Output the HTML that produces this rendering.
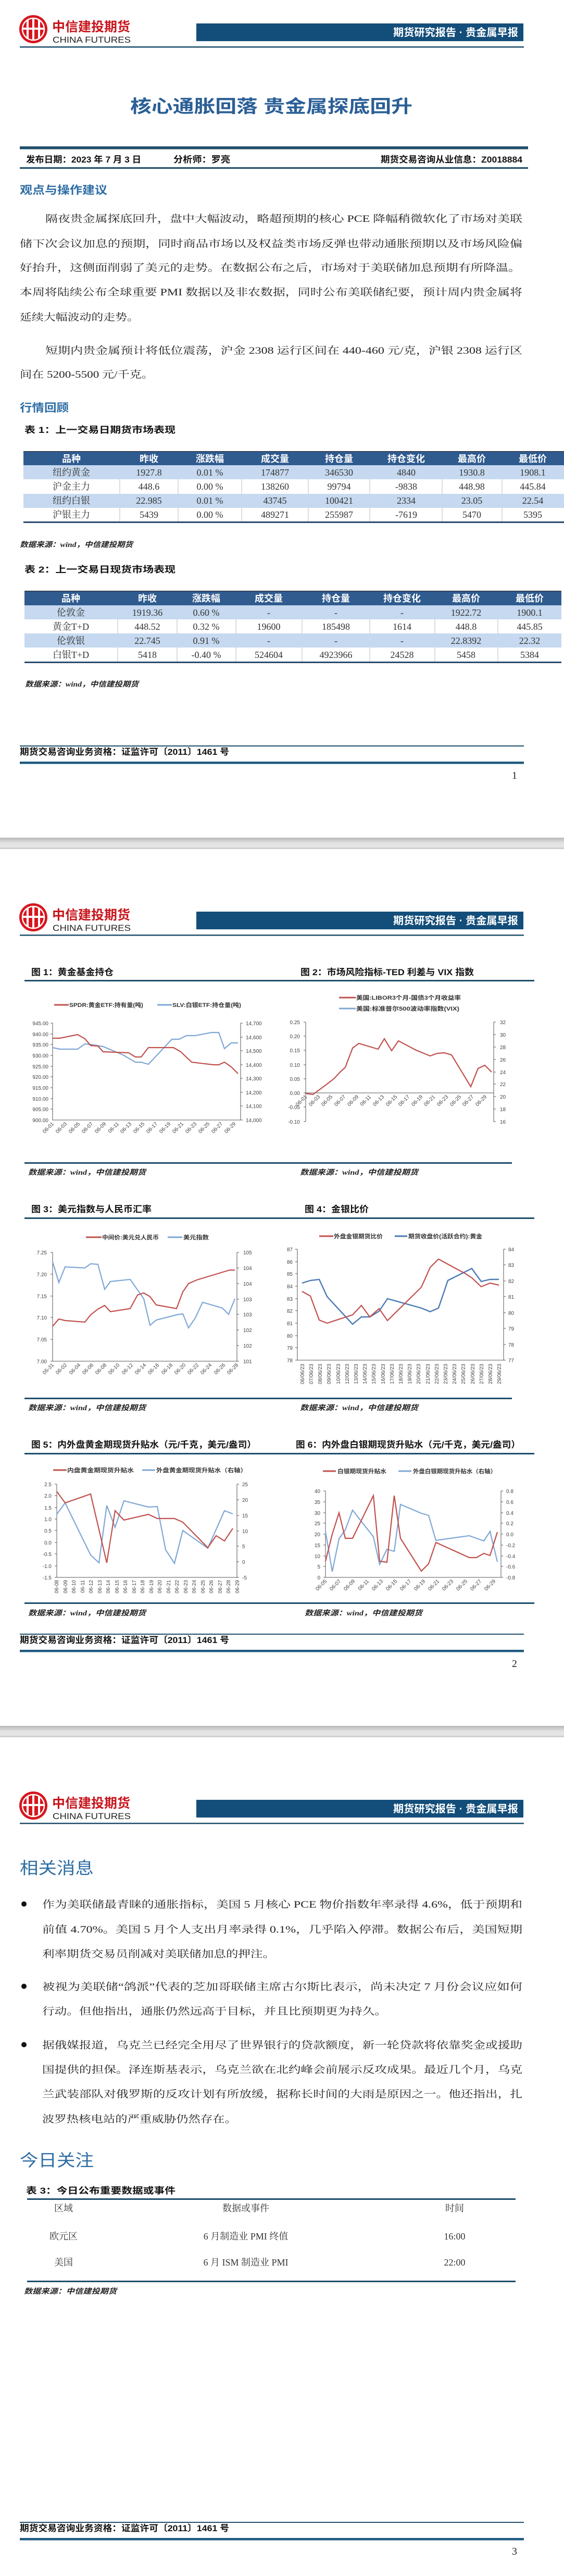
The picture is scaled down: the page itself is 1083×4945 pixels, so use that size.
<!DOCTYPE html>
<html><head><meta charset="utf-8"><style>
html,body{margin:0;padding:0;background:#fff;width:1083px;height:4945px;overflow:hidden}
svg{display:block}
.sb{font-family:"Liberation Sans","Noto Sans CJK SC",sans-serif;font-weight:bold}
.s{font-family:"Liberation Sans","Noto Sans CJK SC",sans-serif}
.se{font-family:"Liberation Serif","Noto Serif CJK SC",serif}
.src{font-family:"Liberation Serif","Noto Sans CJK SC",sans-serif;font-weight:bold;font-style:italic;font-size:14px;fill:#222}
.ax{font-family:"Liberation Sans",sans-serif;font-size:10px;fill:#444}
.lg{font-family:"Liberation Sans","Noto Sans CJK SC",sans-serif;font-size:11px;font-weight:bold;fill:#333}
.ttl{font-family:"Liberation Sans","Noto Sans CJK SC",sans-serif;font-weight:bold;font-size:17px;fill:#111}
.body{font-family:"Liberation Serif","Noto Serif CJK SC",serif;font-size:19px;fill:#222}
.td{font-family:"Liberation Serif","Noto Serif CJK SC",serif;font-size:18px;fill:#333;text-anchor:middle}
.th{font-family:"Liberation Sans","Noto Sans CJK SC",sans-serif;font-weight:bold;font-size:18px;fill:#fff;text-anchor:middle}
.r{fill:none;stroke:#c0504d;stroke-width:2.2}
.b{fill:none;stroke:#7fa7d6;stroke-width:2.2}
.bd{fill:none;stroke:#4a7ab5;stroke-width:2.4}
.axl{stroke:#555;stroke-width:1;fill:none}
</style></head><body>
<svg width="1083" height="4945" viewBox="0 0 1083 4945" xmlns="http://www.w3.org/2000/svg">
<defs>
<g id="hdr">
  <circle cx="64" cy="56" r="27" fill="#d7161e"/>
  <circle cx="64" cy="56" r="21" fill="none" stroke="#fff" stroke-width="2.5"/>
  <rect x="51" y="38" width="4" height="36" fill="#fff"/>
  <rect x="62" y="34" width="4" height="44" fill="#fff"/>
  <rect x="73" y="38" width="4" height="36" fill="#fff"/>
  <rect x="44" y="53" width="40" height="4" fill="#fff"/>
  <text x="100" y="60" class="sb" font-size="25" fill="#c8161d" textLength="150" lengthAdjust="spacingAndGlyphs">中信建投期货</text>
  <text x="101" y="82" class="s" font-size="17" fill="#222" textLength="150" lengthAdjust="spacingAndGlyphs">CHINA FUTURES</text>
  <rect x="377" y="45" width="628" height="34" fill="#134e7a"/>
  <text x="755" y="69" class="sb" font-size="20" fill="#fff" textLength="240" lengthAdjust="spacingAndGlyphs">期货研究报告 · 贵金属早报</text>
  <rect x="38" y="89" width="968" height="2.5" fill="#1f4e6b"/>
</g>
<g id="ftr">
  <rect x="38" y="1431" width="968" height="2" fill="#1f4e6b"/>
  <text x="38" y="1449" class="sb" font-size="17" fill="#111" textLength="402" lengthAdjust="spacingAndGlyphs">期货交易咨询业务资格：证监许可〔2011〕1461 号</text>
  <rect x="38" y="1462" width="968" height="4.5" fill="#1f5a80"/>
</g>
<linearGradient id="gap" x1="0" y1="0" x2="0" y2="1"><stop offset="0" stop-color="#b8b8b8"/><stop offset="0.5" stop-color="#e4e4e4"/><stop offset="0.85" stop-color="#e4e4e4"/><stop offset="0.86" stop-color="#d0d0d0"/><stop offset="1" stop-color="#d0d0d0"/></linearGradient>
</defs>

<!-- PAGE 1 -->
<use href="#hdr"/>
<text x="250" y="216" class="sb" font-size="34" fill="#2b5f96" textLength="542" lengthAdjust="spacingAndGlyphs">核心通胀回落 贵金属探底回升</text>
<rect x="38" y="281" width="976" height="5.5" fill="#1f4e6b"/>
<text x="50" y="312" class="sb" font-size="17" fill="#111" textLength="221" lengthAdjust="spacingAndGlyphs">发布日期：2023 年 7 月 3 日</text>
<text x="333" y="312" class="sb" font-size="17" fill="#111" textLength="109" lengthAdjust="spacingAndGlyphs">分析师：罗亮</text>
<text x="731" y="312" class="sb" font-size="17" fill="#111" textLength="272" lengthAdjust="spacingAndGlyphs">期货交易咨询从业信息：Z0018884</text>
<rect x="38" y="321" width="976" height="3" fill="#1f4e6b"/>
<text x="38" y="372" class="sb" font-size="21" fill="#2e6da4" textLength="168" lengthAdjust="spacingAndGlyphs">观点与操作建议</text>
<text x="87" y="426" class="body" textLength="916" lengthAdjust="spacingAndGlyphs">隔夜贵金属探底回升，盘中大幅波动，略超预期的核心 PCE 降幅稍微软化了市场对美联</text>
<text x="38" y="474" class="body" textLength="965" lengthAdjust="spacingAndGlyphs">储下次会议加息的预期，同时商品市场以及权益类市场反弹也带动通胀预期以及市场风险偏</text>
<text x="38" y="520" class="body" textLength="962" lengthAdjust="spacingAndGlyphs">好抬升，这侧面削弱了美元的走势。在数据公布之后，市场对于美联储加息预期有所降温。</text>
<text x="38" y="567" class="body" textLength="965" lengthAdjust="spacingAndGlyphs">本周将陆续公布全球重要 PMI 数据以及非农数据，同时公布美联储纪要，预计周内贵金属将</text>
<text x="38" y="615" class="body" textLength="229" lengthAdjust="spacingAndGlyphs">延续大幅波动的走势。</text>
<text x="87" y="679" class="body" textLength="916" lengthAdjust="spacingAndGlyphs">短期内贵金属预计将低位震荡，沪金 2308 运行区间在 440-460 元/克，沪银 2308 运行区</text>
<text x="38" y="725" class="body" textLength="257" lengthAdjust="spacingAndGlyphs">间在 5200-5500 元/千克。</text>
<text x="38" y="790" class="sb" font-size="21" fill="#2e6da4" textLength="94" lengthAdjust="spacingAndGlyphs">行情回顾</text>

<text x="47" y="831" class="ttl" textLength="290" lengthAdjust="spacingAndGlyphs">表 1：上一交易日期货市场表现</text>
<rect x="45" y="866" width="1038" height="1.5" fill="#222"/>
<rect x="45" y="867" width="1038" height="26" fill="#2f5b8f"/>
<rect x="45" y="893" width="1038" height="27" fill="#c6d9f0"/>
<rect x="45" y="948" width="1038" height="27" fill="#c6d9f0"/>
<g stroke="#bbb" stroke-width="1">
<line x1="230" y1="920" x2="230" y2="948"/><line x1="342" y1="920" x2="342" y2="948"/><line x1="464" y1="920" x2="464" y2="948"/><line x1="592" y1="920" x2="592" y2="948"/><line x1="710" y1="920" x2="710" y2="948"/><line x1="849" y1="920" x2="849" y2="948"/><line x1="964" y1="920" x2="964" y2="948"/>
<line x1="230" y1="975" x2="230" y2="1001"/><line x1="342" y1="975" x2="342" y2="1001"/><line x1="464" y1="975" x2="464" y2="1001"/><line x1="592" y1="975" x2="592" y2="1001"/><line x1="710" y1="975" x2="710" y2="1001"/><line x1="849" y1="975" x2="849" y2="1001"/><line x1="964" y1="975" x2="964" y2="1001"/>
</g>
<rect x="45" y="1001" width="1038" height="3" fill="#2b4a6f"/>
<g class="th"><text x="137" y="887">品种</text><text x="286" y="887">昨收</text><text x="403" y="887">涨跌幅</text><text x="528" y="887">成交量</text><text x="651" y="887">持仓量</text><text x="780" y="887">持仓变化</text><text x="906" y="887">最高价</text><text x="1023" y="887">最低价</text></g>
<g class="td">
<text x="137" y="913">纽约黄金</text><text x="286" y="913">1927.8</text><text x="403" y="913">0.01 %</text><text x="528" y="913">174877</text><text x="651" y="913">346530</text><text x="780" y="913">4840</text><text x="906" y="913">1930.8</text><text x="1023" y="913">1908.1</text>
<text x="137" y="940">沪金主力</text><text x="286" y="940">448.6</text><text x="403" y="940">0.00 %</text><text x="528" y="940">138260</text><text x="651" y="940">99794</text><text x="780" y="940">-9838</text><text x="906" y="940">448.98</text><text x="1023" y="940">445.84</text>
<text x="137" y="967">纽约白银</text><text x="286" y="967">22.985</text><text x="403" y="967">0.01 %</text><text x="528" y="967">43745</text><text x="651" y="967">100421</text><text x="780" y="967">2334</text><text x="906" y="967">23.05</text><text x="1023" y="967">22.54</text>
<text x="137" y="994">沪银主力</text><text x="286" y="994">5439</text><text x="403" y="994">0.00 %</text><text x="528" y="994">489271</text><text x="651" y="994">255987</text><text x="780" y="994">-7619</text><text x="906" y="994">5470</text><text x="1023" y="994">5395</text>
</g>
<text x="38" y="1050" class="src" textLength="217" lengthAdjust="spacingAndGlyphs">数据来源：wind，中信建投期货</text>

<text x="47" y="1099" class="ttl" textLength="290" lengthAdjust="spacingAndGlyphs">表 2：上一交易日现货市场表现</text>
<rect x="47" y="1134" width="1031" height="1.5" fill="#222"/>
<rect x="47" y="1135" width="1031" height="27" fill="#2f5b8f"/>
<rect x="47" y="1162" width="1031" height="27" fill="#c6d9f0"/>
<rect x="47" y="1216" width="1031" height="27" fill="#c6d9f0"/>
<g stroke="#bbb" stroke-width="1">
<line x1="226" y1="1189" x2="226" y2="1216"/><line x1="340" y1="1189" x2="340" y2="1216"/><line x1="453" y1="1189" x2="453" y2="1216"/><line x1="580" y1="1189" x2="580" y2="1216"/><line x1="710" y1="1189" x2="710" y2="1216"/><line x1="835" y1="1189" x2="835" y2="1216"/><line x1="956" y1="1189" x2="956" y2="1216"/>
<line x1="226" y1="1243" x2="226" y2="1270"/><line x1="340" y1="1243" x2="340" y2="1270"/><line x1="453" y1="1243" x2="453" y2="1270"/><line x1="580" y1="1243" x2="580" y2="1270"/><line x1="710" y1="1243" x2="710" y2="1270"/><line x1="835" y1="1243" x2="835" y2="1270"/><line x1="956" y1="1243" x2="956" y2="1270"/>
</g>
<rect x="47" y="1270" width="1031" height="3" fill="#2b4a6f"/>
<g class="th"><text x="136" y="1155">品种</text><text x="283" y="1155">昨收</text><text x="396" y="1155">涨跌幅</text><text x="516" y="1155">成交量</text><text x="645" y="1155">持仓量</text><text x="772" y="1155">持仓变化</text><text x="895" y="1155">最高价</text><text x="1017" y="1155">最低价</text></g>
<g class="td">
<text x="136" y="1182">伦敦金</text><text x="283" y="1182">1919.36</text><text x="396" y="1182">0.60 %</text><text x="516" y="1182">-</text><text x="645" y="1182">-</text><text x="772" y="1182">-</text><text x="895" y="1182">1922.72</text><text x="1017" y="1182">1900.1</text>
<text x="136" y="1209">黄金T+D</text><text x="283" y="1209">448.52</text><text x="396" y="1209">0.32 %</text><text x="516" y="1209">19600</text><text x="645" y="1209">185498</text><text x="772" y="1209">1614</text><text x="895" y="1209">448.8</text><text x="1017" y="1209">445.85</text>
<text x="136" y="1236">伦敦银</text><text x="283" y="1236">22.745</text><text x="396" y="1236">0.91 %</text><text x="516" y="1236">-</text><text x="645" y="1236">-</text><text x="772" y="1236">-</text><text x="895" y="1236">22.8392</text><text x="1017" y="1236">22.32</text>
<text x="136" y="1263">白银T+D</text><text x="283" y="1263">5418</text><text x="396" y="1263">-0.40 %</text><text x="516" y="1263">524604</text><text x="645" y="1263">4923966</text><text x="772" y="1263">24528</text><text x="895" y="1263">5458</text><text x="1017" y="1263">5384</text>
</g>
<text x="48" y="1318" class="src" textLength="218" lengthAdjust="spacingAndGlyphs">数据来源：wind，中信建投期货</text>
<use href="#ftr"/>
<text x="983" y="1495" class="se" font-size="20" fill="#222">1</text>
<rect x="0" y="1608" width="1083" height="22" fill="url(#gap)"/>

<!-- PAGE 2 -->
<g transform="translate(0,1705)"><use href="#hdr"/><use href="#ftr"/></g>
<text x="983" y="3200" class="se" font-size="20" fill="#222">2</text>
<rect x="0" y="3313" width="1083" height="22" fill="url(#gap)"/>

<text x="60" y="1872" class="ttl" textLength="158" lengthAdjust="spacingAndGlyphs">图 1：黄金基金持仓</text>
<text x="577" y="1872" class="ttl" textLength="333" lengthAdjust="spacingAndGlyphs">图 2：市场风险指标-TED 利差与 VIX 指数</text>
<rect x="47" y="1881" width="979" height="3" fill="#1f4e6b"/>

<!-- chart1 -->
<line x1="104" y1="1929" x2="132" y2="1929" stroke="#c0504d" stroke-width="3"/>
<text x="133" y="1933" class="lg" textLength="142" lengthAdjust="spacingAndGlyphs">SPDR:黄金ETF:持有量(吨)</text>
<line x1="302" y1="1929" x2="330" y2="1929" stroke="#7fa7d6" stroke-width="3"/>
<text x="331" y="1933" class="lg" textLength="132" lengthAdjust="spacingAndGlyphs">SLV:白银ETF:持仓量(吨)</text>
<path class="axl" d="M101 1964V2150H462M462 1964V2150M97 1964H101M97 1985H101M97 2005H101M97 2026H101M97 2047H101M97 2067H101M97 2088H101M97 2109H101M97 2129H101M462 1964H466M462 1991H466M462 2017H466M462 2044H466M462 2070H466M462 2097H466M462 2123H466M462 2150H466"/>
<g class="ax" text-anchor="end"><text x="93" y="1968">945.00</text><text x="93" y="1989">940.00</text><text x="93" y="2009">935.00</text><text x="93" y="2030">930.00</text><text x="93" y="2051">925.00</text><text x="93" y="2071">920.00</text><text x="93" y="2092">915.00</text><text x="93" y="2113">910.00</text><text x="93" y="2133">905.00</text><text x="93" y="2154">900.00</text></g>
<g class="ax"><text x="472" y="1968">14,700</text><text x="472" y="1995">14,600</text><text x="472" y="2021">14,500</text><text x="472" y="2048">14,400</text><text x="472" y="2074">14,300</text><text x="472" y="2101">14,200</text><text x="472" y="2127">14,100</text><text x="472" y="2154">14,000</text></g>
<g class="ax" text-anchor="end">
<text transform="translate(104,2158) rotate(-45)">06-01</text><text transform="translate(129,2158) rotate(-45)">06-03</text><text transform="translate(154,2158) rotate(-45)">06-05</text><text transform="translate(179,2158) rotate(-45)">06-07</text><text transform="translate(204,2158) rotate(-45)">06-09</text><text transform="translate(229,2158) rotate(-45)">06-11</text><text transform="translate(253,2158) rotate(-45)">06-13</text><text transform="translate(278,2158) rotate(-45)">06-15</text><text transform="translate(303,2158) rotate(-45)">06-17</text><text transform="translate(328,2158) rotate(-45)">06-19</text><text transform="translate(353,2158) rotate(-45)">06-21</text><text transform="translate(378,2158) rotate(-45)">06-23</text><text transform="translate(403,2158) rotate(-45)">06-25</text><text transform="translate(428,2158) rotate(-45)">06-27</text><text transform="translate(453,2158) rotate(-45)">06-29</text></g>
<polyline class="b" points="101,2011 115,2014 149,2014 163,2004 174,2005 198,2009 236,2025 260,2039 271,2039 285,2043 330,1995 344,1995 358,1988 375,1988 406,1982 420,1982 431,2013 444,2002 457,2002"/>
<polyline class="r" points="101,1993 115,1993 149,1986 163,1994 174,2007 188,2008 198,2019 247,2021 260,2029 271,2029 285,2011 333,2011 347,2019 368,2039 410,2044 420,2044 431,2039 444,2048 457,2061"/>

<!-- chart2 -->
<line x1="651" y1="1915" x2="683" y2="1915" stroke="#c0504d" stroke-width="3"/>
<text x="684" y="1919" class="lg" textLength="201" lengthAdjust="spacingAndGlyphs">美国:LIBOR3个月-国债3个月收益率</text>
<line x1="651" y1="1936" x2="683" y2="1936" stroke="#7fa7d6" stroke-width="3"/>
<text x="684" y="1940" class="lg" textLength="198" lengthAdjust="spacingAndGlyphs">美国:标准普尔500波动率指数(VIX)</text>
<path class="axl" d="M587 1962V2153M948 1962V2153M587 2098H948M583 1962H587M583 1989H587M583 2016H587M583 2044H587M583 2071H587M583 2098H587M583 2125H587M583 2153H587M948 1962H952M948 1986H952M948 2010H952M948 2034H952M948 2058H952M948 2081H952M948 2105H952M948 2129H952M948 2153H952"/>
<g class="ax" text-anchor="end"><text x="576" y="1966">0.25</text><text x="576" y="1993">0.20</text><text x="576" y="2020">0.15</text><text x="576" y="2048">0.10</text><text x="576" y="2075">0.05</text><text x="576" y="2102">0.00</text><text x="576" y="2129">-0.05</text><text x="576" y="2157">-0.10</text></g>
<g class="ax"><text x="960" y="1966">32</text><text x="960" y="1990">30</text><text x="960" y="2014">28</text><text x="960" y="2038">26</text><text x="960" y="2062">24</text><text x="960" y="2085">22</text><text x="960" y="2109">20</text><text x="960" y="2133">18</text><text x="960" y="2157">16</text></g>
<g class="ax" text-anchor="end">
<text transform="translate(590,2106) rotate(-45)">06-01</text><text transform="translate(615,2106) rotate(-45)">06-03</text><text transform="translate(639,2106) rotate(-45)">06-05</text><text transform="translate(664,2106) rotate(-45)">06-07</text><text transform="translate(689,2106) rotate(-45)">06-09</text><text transform="translate(713,2106) rotate(-45)">06-11</text><text transform="translate(738,2106) rotate(-45)">06-13</text><text transform="translate(763,2106) rotate(-45)">06-15</text><text transform="translate(787,2106) rotate(-45)">06-17</text><text transform="translate(812,2106) rotate(-45)">06-19</text><text transform="translate(836,2106) rotate(-45)">06-21</text><text transform="translate(861,2106) rotate(-45)">06-23</text><text transform="translate(886,2106) rotate(-45)">06-25</text><text transform="translate(910,2106) rotate(-45)">06-27</text><text transform="translate(935,2106) rotate(-45)">06-29</text></g>
<polyline class="r" points="587,2099 601,2101 628,2081 642,2070 653,2058 663,2049 677,2012 689,2003 726,2014 738,1994 752,2017 765,1998 799,2016 826,2027 840,2022 853,2021 867,2025 904,2086 918,2051 931,2045 944,2058"/>

<rect x="47" y="2231" width="936" height="3" fill="#1f4e6b"/>
<text x="54" y="2255" class="src" textLength="226" lengthAdjust="spacingAndGlyphs">数据来源：wind，中信建投期货</text>
<text x="576" y="2255" class="src" textLength="227" lengthAdjust="spacingAndGlyphs">数据来源：wind，中信建投期货</text>

<text x="60" y="2327" class="ttl" textLength="231" lengthAdjust="spacingAndGlyphs">图 3：美元指数与人民币汇率</text>
<text x="585" y="2327" class="ttl" textLength="123" lengthAdjust="spacingAndGlyphs">图 4：金银比价</text>
<rect x="47" y="2337" width="979" height="3" fill="#1f4e6b"/>

<!-- chart3 -->
<line x1="165" y1="2375" x2="195" y2="2375" stroke="#c0504d" stroke-width="3"/>
<text x="196" y="2379" class="lg" textLength="109" lengthAdjust="spacingAndGlyphs">中间价:美元兑人民币</text>
<line x1="322" y1="2375" x2="350" y2="2375" stroke="#7fa7d6" stroke-width="3"/>
<text x="352" y="2379" class="lg" textLength="49" lengthAdjust="spacingAndGlyphs">美元指数</text>
<path class="axl" d="M101 2404V2613H455M455 2404V2613M97 2404H101M97 2446H101M97 2488H101M97 2529H101M97 2571H101M97 2613H101M455 2404H459M455 2434H459M455 2464H459M455 2494H459M455 2523H459M455 2553H459M455 2583H459M455 2613H459"/>
<g class="ax" text-anchor="end"><text x="90" y="2408">7.25</text><text x="90" y="2450">7.20</text><text x="90" y="2492">7.15</text><text x="90" y="2533">7.10</text><text x="90" y="2575">7.05</text><text x="90" y="2617">7.00</text></g>
<g class="ax"><text x="467" y="2408">105</text><text x="467" y="2438">104</text><text x="467" y="2468">104</text><text x="467" y="2498">103</text><text x="467" y="2527">103</text><text x="467" y="2557">102</text><text x="467" y="2587">102</text><text x="467" y="2617">101</text></g>
<g class="ax" text-anchor="end">
<text transform="translate(104,2621) rotate(-45)">05-31</text><text transform="translate(129,2621) rotate(-45)">06-02</text><text transform="translate(155,2621) rotate(-45)">06-04</text><text transform="translate(180,2621) rotate(-45)">06-06</text><text transform="translate(205,2621) rotate(-45)">06-08</text><text transform="translate(230,2621) rotate(-45)">06-10</text><text transform="translate(256,2621) rotate(-45)">06-12</text><text transform="translate(281,2621) rotate(-45)">06-14</text><text transform="translate(306,2621) rotate(-45)">06-16</text><text transform="translate(332,2621) rotate(-45)">06-18</text><text transform="translate(357,2621) rotate(-45)">06-20</text><text transform="translate(382,2621) rotate(-45)">06-22</text><text transform="translate(407,2621) rotate(-45)">06-24</text><text transform="translate(433,2621) rotate(-45)">06-26</text><text transform="translate(458,2621) rotate(-45)">06-28</text></g>
<polyline class="b" points="101,2422 113,2462 125,2432 163,2434 174,2426 188,2427 201,2475 212,2460 250,2456 264,2476 276,2493 288,2544 300,2534 339,2524 351,2522 362,2549 375,2530 389,2500 427,2511 439,2523 451,2493"/>
<polyline class="r" points="101,2546 113,2532 125,2535 163,2538 174,2524 188,2513 201,2506 212,2518 250,2512 264,2486 276,2482 288,2489 300,2505 339,2512 351,2480 362,2464 378,2457 431,2441 441,2438 451,2438"/>

<!-- chart4 -->
<line x1="613" y1="2373" x2="640" y2="2373" stroke="#c0504d" stroke-width="3"/>
<text x="641" y="2377" class="lg" textLength="94" lengthAdjust="spacingAndGlyphs">外盘金银期货比价</text>
<line x1="758" y1="2373" x2="782" y2="2373" stroke="#4a7ab5" stroke-width="3"/>
<text x="784" y="2377" class="lg" textLength="142" lengthAdjust="spacingAndGlyphs">期货收盘价(活跃合约):黄金</text>
<path class="axl" d="M571 2398V2611H967M967 2398V2611M567 2398H571M567 2422H571M567 2445H571M567 2469H571M567 2493H571M567 2516H571M567 2540H571M567 2564H571M567 2587H571M567 2611H571M967 2398H971M967 2428H971M967 2459H971M967 2489H971M967 2520H971M967 2550H971M967 2581H971M967 2611H971"/>
<g class="ax" text-anchor="end"><text x="562" y="2402">87</text><text x="562" y="2426">86</text><text x="562" y="2449">85</text><text x="562" y="2473">84</text><text x="562" y="2497">83</text><text x="562" y="2520">82</text><text x="562" y="2544">81</text><text x="562" y="2568">80</text><text x="562" y="2591">79</text><text x="562" y="2615">78</text></g>
<g class="ax"><text x="976" y="2402">84</text><text x="976" y="2432">83</text><text x="976" y="2463">82</text><text x="976" y="2493">81</text><text x="976" y="2524">80</text><text x="976" y="2554">79</text><text x="976" y="2585">78</text><text x="976" y="2615">77</text></g>
<g class="ax" text-anchor="end" font-size="9">
<text transform="translate(584,2618) rotate(-90)">06/06/23</text><text transform="translate(601,2618) rotate(-90)">07/06/23</text><text transform="translate(618,2618) rotate(-90)">08/06/23</text><text transform="translate(635,2618) rotate(-90)">09/06/23</text><text transform="translate(653,2618) rotate(-90)">10/06/23</text><text transform="translate(670,2618) rotate(-90)">12/06/23</text><text transform="translate(687,2618) rotate(-90)">13/06/23</text><text transform="translate(704,2618) rotate(-90)">14/06/23</text><text transform="translate(721,2618) rotate(-90)">15/06/23</text><text transform="translate(739,2618) rotate(-90)">16/06/23</text><text transform="translate(756,2618) rotate(-90)">17/06/23</text><text transform="translate(773,2618) rotate(-90)">18/06/23</text><text transform="translate(790,2618) rotate(-90)">19/06/23</text><text transform="translate(807,2618) rotate(-90)">20/06/23</text><text transform="translate(825,2618) rotate(-90)">21/06/23</text><text transform="translate(842,2618) rotate(-90)">22/06/23</text><text transform="translate(859,2618) rotate(-90)">23/06/23</text><text transform="translate(876,2618) rotate(-90)">24/06/23</text><text transform="translate(893,2618) rotate(-90)">25/06/23</text><text transform="translate(911,2618) rotate(-90)">26/06/23</text><text transform="translate(928,2618) rotate(-90)">27/06/23</text><text transform="translate(945,2618) rotate(-90)">28/06/23</text><text transform="translate(962,2618) rotate(-90)">29/06/23</text></g>
<polyline class="bd" points="580,2463 596,2458 613,2456 628,2489 677,2542 694,2528 710,2528 728,2517 744,2493 809,2511 826,2518 842,2511 860,2458 906,2435 924,2460 941,2456 958,2456"/>
<polyline class="r" points="580,2479 596,2488 613,2534 628,2540 677,2524 694,2506 710,2528 728,2512 744,2535 809,2471 826,2433 842,2417 875,2435 892,2444 906,2453 924,2470 941,2463 958,2467"/>

<rect x="47" y="2683" width="936" height="3" fill="#1f4e6b"/>
<text x="54" y="2707" class="src" textLength="226" lengthAdjust="spacingAndGlyphs">数据来源：wind，中信建投期货</text>
<text x="576" y="2707" class="src" textLength="227" lengthAdjust="spacingAndGlyphs">数据来源：wind，中信建投期货</text>

<text x="60" y="2779" class="ttl" textLength="432" lengthAdjust="spacingAndGlyphs">图 5：内外盘黄金期现货升贴水（元/千克，美元/盎司）</text>
<text x="568" y="2779" class="ttl" textLength="431" lengthAdjust="spacingAndGlyphs">图 6：内外盘白银期现货升贴水（元/千克，美元/盎司）</text>
<rect x="47" y="2789" width="979" height="3" fill="#1f4e6b"/>

<!-- chart5 -->
<line x1="102" y1="2822" x2="128" y2="2822" stroke="#c0504d" stroke-width="3"/>
<text x="129" y="2826" class="lg" textLength="128" lengthAdjust="spacingAndGlyphs">内盘黄金期现货升贴水</text>
<line x1="273" y1="2822" x2="298" y2="2822" stroke="#7fa7d6" stroke-width="3"/>
<text x="300" y="2826" class="lg" textLength="174" lengthAdjust="spacingAndGlyphs">外盘黄金期现货升贴水（右轴）</text>
<path class="axl" d="M109 2849V3028H455M455 2849V3028M105 2849H109M105 2871H109M105 2894H109M105 2916H109M105 2938H109M105 2961H109M105 2983H109M105 3006H109M105 3028H109M455 2849H459M455 2879H459M455 2909H459M455 2939H459M455 2968H459M455 2998H459M455 3028H459"/>
<g class="ax" text-anchor="end"><text x="99" y="2853">2.5</text><text x="99" y="2875">2.0</text><text x="99" y="2898">1.5</text><text x="99" y="2920">1.0</text><text x="99" y="2942">0.5</text><text x="99" y="2965">0.0</text><text x="99" y="2987">-0.5</text><text x="99" y="3010">-1.0</text><text x="99" y="3032">-1.5</text></g>
<g class="ax"><text x="465" y="2853">25</text><text x="465" y="2883">20</text><text x="465" y="2913">15</text><text x="465" y="2943">10</text><text x="465" y="2972">5</text><text x="465" y="3002">0</text><text x="465" y="3032">-5</text></g>
<g class="ax" text-anchor="end" font-size="9">
<text transform="translate(112,3033) rotate(-90)">06-08</text><text transform="translate(129,3033) rotate(-90)">06-09</text><text transform="translate(145,3033) rotate(-90)">06-10</text><text transform="translate(162,3033) rotate(-90)">06-11</text><text transform="translate(178,3033) rotate(-90)">06-12</text><text transform="translate(195,3033) rotate(-90)">06-13</text><text transform="translate(211,3033) rotate(-90)">06-14</text><text transform="translate(228,3033) rotate(-90)">06-15</text><text transform="translate(244,3033) rotate(-90)">06-16</text><text transform="translate(261,3033) rotate(-90)">06-17</text><text transform="translate(277,3033) rotate(-90)">06-18</text><text transform="translate(294,3033) rotate(-90)">06-19</text><text transform="translate(310,3033) rotate(-90)">06-20</text><text transform="translate(327,3033) rotate(-90)">06-21</text><text transform="translate(343,3033) rotate(-90)">06-22</text><text transform="translate(360,3033) rotate(-90)">06-23</text><text transform="translate(376,3033) rotate(-90)">06-24</text><text transform="translate(393,3033) rotate(-90)">06-25</text><text transform="translate(409,3033) rotate(-90)">06-26</text><text transform="translate(426,3033) rotate(-90)">06-27</text><text transform="translate(442,3033) rotate(-90)">06-28</text><text transform="translate(459,3033) rotate(-90)">06-29</text></g>
<polyline class="b" points="109,2907 125,2885 174,2985 190,3000 205,2890 221,2932 238,2881 285,2893 302,2892 318,2975 335,3001 351,2938 399,2972 431,2900 447,2906"/>
<polyline class="r" points="109,2863 125,2885 174,2868 205,3000 221,2900 238,2918 285,2907 302,2915 335,2915 351,2922 399,2971 415,2948 431,2958 447,2934"/>

<!-- chart6 -->
<line x1="620" y1="2824" x2="645" y2="2824" stroke="#c0504d" stroke-width="3"/>
<text x="648" y="2828" class="lg" textLength="94" lengthAdjust="spacingAndGlyphs">白银期现货升贴水</text>
<line x1="765" y1="2824" x2="790" y2="2824" stroke="#7fa7d6" stroke-width="3"/>
<text x="793" y="2828" class="lg" textLength="160" lengthAdjust="spacingAndGlyphs">外盘白银期现货升贴水（右轴）</text>
<path class="axl" d="M625 2862V3028H962M962 2862V3028M621 2862H625M621 2883H625M621 2904H625M621 2924H625M621 2945H625M621 2966H625M621 2987H625M621 3007H625M621 3028H625M962 2862H966M962 2883H966M962 2904H966M962 2924H966M962 2945H966M962 2966H966M962 2987H966M962 3007H966M962 3028H966"/>
<g class="ax" text-anchor="end"><text x="615" y="2866">40</text><text x="615" y="2887">35</text><text x="615" y="2908">30</text><text x="615" y="2928">25</text><text x="615" y="2949">20</text><text x="615" y="2970">15</text><text x="615" y="2991">10</text><text x="615" y="3011">5</text><text x="615" y="3032">0</text></g>
<g class="ax"><text x="972" y="2866">0.8</text><text x="972" y="2887">0.6</text><text x="972" y="2908">0.4</text><text x="972" y="2928">0.2</text><text x="972" y="2949">0.0</text><text x="972" y="2970">-0.2</text><text x="972" y="2991">-0.4</text><text x="972" y="3011">-0.6</text><text x="972" y="3032">-0.8</text></g>
<g class="ax" text-anchor="end">
<text transform="translate(628,3036) rotate(-45)">06-05</text><text transform="translate(655,3036) rotate(-45)">06-07</text><text transform="translate(682,3036) rotate(-45)">06-09</text><text transform="translate(709,3036) rotate(-45)">06-11</text><text transform="translate(736,3036) rotate(-45)">06-13</text><text transform="translate(763,3036) rotate(-45)">06-15</text><text transform="translate(790,3036) rotate(-45)">06-17</text><text transform="translate(817,3036) rotate(-45)">06-19</text><text transform="translate(844,3036) rotate(-45)">06-21</text><text transform="translate(871,3036) rotate(-45)">06-23</text><text transform="translate(898,3036) rotate(-45)">06-25</text><text transform="translate(925,3036) rotate(-45)">06-27</text><text transform="translate(952,3036) rotate(-45)">06-29</text></g>
<polyline class="b" points="625,2940 638,3017 651,2954 663,2937 677,2899 717,2950 729,3003 743,2974 757,2978 769,2888 809,2905 823,2909 837,2957 901,2948 915,2953 929,2958 941,2940 955,2998"/>
<polyline class="r" points="625,2997 638,2945 651,2904 663,2953 677,2953 717,2871 729,2997 743,2999 757,2871 769,2953 809,3016 823,3002 837,2961 901,2990 915,2990 929,2982 941,2986 955,2941"/>

<rect x="47" y="3076" width="979" height="3" fill="#1f4e6b"/>
<text x="54" y="3101" class="src" textLength="226" lengthAdjust="spacingAndGlyphs">数据来源：wind，中信建投期货</text>
<text x="585" y="3101" class="src" textLength="226" lengthAdjust="spacingAndGlyphs">数据来源：wind，中信建投期货</text>

<!-- PAGE 3 -->
<g transform="translate(0,3410)"><use href="#hdr"/><use href="#ftr"/></g>
<text x="983" y="4904" class="se" font-size="20" fill="#222">3</text>

<text x="38" y="3597" class="s" font-size="32" fill="#2e6da4" textLength="142" lengthAdjust="spacingAndGlyphs">相关消息</text>
<g fill="#111"><circle cx="46" cy="3655" r="5"/><circle cx="46" cy="3813" r="5"/><circle cx="46" cy="3925" r="5"/></g>
<text x="81" y="3662" class="body" textLength="922" lengthAdjust="spacingAndGlyphs">作为美联储最青睐的通胀指标，美国 5 月核心 PCE 物价指数年率录得 4.6%，低于预期和</text>
<text x="81" y="3710" class="body" textLength="922" lengthAdjust="spacingAndGlyphs">前值 4.70%。美国 5 月个人支出月率录得 0.1%，几乎陷入停滞。数据公布后，美国短期</text>
<text x="81" y="3757" class="body" textLength="447" lengthAdjust="spacingAndGlyphs">利率期货交易员削减对美联储加息的押注。</text>
<text x="81" y="3820" class="body" textLength="922" lengthAdjust="spacingAndGlyphs">被视为美联储“鸽派”代表的芝加哥联储主席古尔斯比表示，尚未决定 7 月份会议应如何</text>
<text x="81" y="3867" class="body" textLength="662" lengthAdjust="spacingAndGlyphs">行动。但他指出，通胀仍然远高于目标，并且比预期更为持久。</text>
<text x="81" y="3932" class="body" textLength="922" lengthAdjust="spacingAndGlyphs">据俄媒报道，乌克兰已经完全用尽了世界银行的贷款额度，新一轮贷款将依靠奖金或援助</text>
<text x="81" y="3979" class="body" textLength="922" lengthAdjust="spacingAndGlyphs">国提供的担保。泽连斯基表示，乌克兰欲在北约峰会前展示反攻成果。最近几个月，乌克</text>
<text x="81" y="4026" class="body" textLength="922" lengthAdjust="spacingAndGlyphs">兰武装部队对俄罗斯的反攻计划有所放缓，据称长时间的大雨是原因之一。他还指出，扎</text>
<text x="81" y="4074" class="body" textLength="374" lengthAdjust="spacingAndGlyphs">波罗热核电站的严重威胁仍然存在。</text>
<text x="38" y="4158" class="s" font-size="32" fill="#2e6da4" textLength="142" lengthAdjust="spacingAndGlyphs">今日关注</text>

<text x="50" y="4211" class="ttl" textLength="287" lengthAdjust="spacingAndGlyphs">表 3：今日公布重要数据或事件</text>
<rect x="52" y="4220" width="938" height="3" fill="#1f4e6b"/>
<g class="td" fill="#444"><text x="122" y="4245">区域</text><text x="472" y="4245">数据或事件</text><text x="873" y="4245">时间</text>
<text x="122" y="4299">欧元区</text><text x="472" y="4299">6 月制造业 PMI 终值</text><text x="873" y="4299">16:00</text>
<text x="122" y="4349">美国</text><text x="472" y="4349">6 月 ISM 制造业 PMI</text><text x="873" y="4349">22:00</text></g>
<rect x="52" y="4378" width="938" height="3" fill="#1f4e6b"/>
<text x="46" y="4403" class="src" textLength="178" lengthAdjust="spacingAndGlyphs">数据来源：中信建投期货</text>
</svg>
</body></html>
